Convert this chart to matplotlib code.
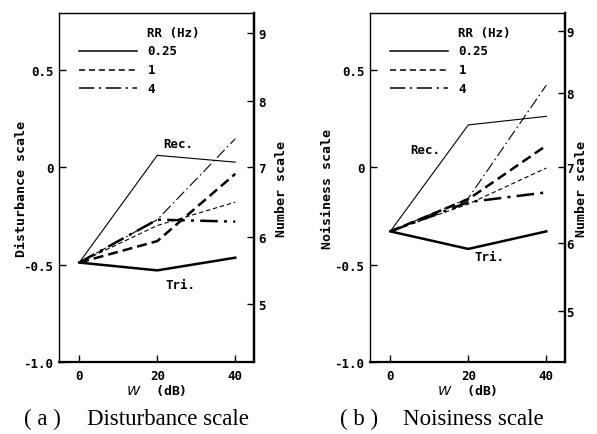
import matplotlib.pyplot as plt
import numpy as np

w = [0, 20, 40]

# disturbance scale (a)
dist_rec = {"0.25": [-0.49, 0.06, 0.025], "1": [-0.49, -0.30, -0.18], "4": [-0.49, -0.27, 0.145]}
dist_tri = {"0.25": [-0.49, -0.53, -0.465], "1": [-0.49, -0.38, -0.035], "4": [-0.49, -0.27, -0.28]}

# noisiness scale (b)
nois_rec = {"0.25": [-0.33, 0.216, 0.26], "1": [-0.33, -0.19, -0.005], "4": [-0.33, -0.16, 0.42]}
nois_tri = {"0.25": [-0.33, -0.42, -0.33], "1": [-0.33, -0.165, 0.11], "4": [-0.33, -0.18, -0.13]}

rr_labels = ["0.25", "1", "4"]
number_ticks = [5, 6, 7, 8, 9]
number_pos_a = [-0.70, -0.36, 0.0, 0.34, 0.69]
number_pos_b = [-0.74, -0.39, 0.0, 0.38, 0.70]

styles = {"0.25": "-", "1": (0, (4, 2.5)), "4": (0, (10, 3, 1.5, 3))}
styles_thick = {"0.25": "-", "1": (0, (4, 2)), "4": (0, (7, 2.5, 1.2, 2.5))}

tfont = dict(family="DejaVu Sans Mono", weight="bold", size=9)
lfont = dict(family="DejaVu Sans Mono", weight="bold", size=9.5)

fig = plt.figure(figsize=(5.97, 4.35), dpi=100)
axa = fig.add_axes([0.0988, 0.1655, 0.3266, 0.8023])
axb = fig.add_axes([0.6198, 0.1655, 0.3266, 0.8023])


def draw(ax, rec, tri, num_pos, ylab, rec_xy, tri_xy, cap_a, cap_b, pads):
    for k in rr_labels:
        ax.plot(w, rec[k], color="black", lw=0.8, linestyle=styles[k])
        ax.plot(w, tri[k], color="black", lw=1.8, linestyle=styles_thick[k])
    # legend drawn by hand
    ax.text(17.3, 0.69, "RR (Hz)", fontdict=tfont, va="center")
    for i, k in enumerate(rr_labels):
        y = [0.596, 0.5, 0.404][i]
        ax.plot([0, 14.8], [y, y], color="black", lw=1.1, linestyle=styles[k])
        ax.text(17.5, y, k, fontdict=tfont, va="center")
    ax.text(rec_xy[0], rec_xy[1], "Rec.", fontdict=tfont, va="center")
    ax.text(tri_xy[0], tri_xy[1], "Tri.", fontdict=tfont, va="center")

    ax.set_xlim(-5.2, 44.8)
    ax.set_ylim(-1.0, 0.79)
    ax.set_xticks(w)
    ax.set_xticklabels(["0", "20", "40"], fontdict=tfont)
    ax.set_yticks([-1.0, -0.5, 0, 0.5])
    ax.set_yticklabels(["-1.0", "-0.5", "0", "0.5"], fontdict=tfont)
    ax.tick_params(direction="in", length=5, width=1.0, pad=4)
    ax.tick_params(axis="x", pad=5)
    ax.set_ylabel(ylab, fontdict=lfont, labelpad=pads[0])
    ax.set_xlabel(r"$\mathit{W}$  (dB)", fontdict=lfont, labelpad=0)
    for s in ["left", "top"]:
        ax.spines[s].set_linewidth(1.0)
    for s in ["right", "bottom"]:
        ax.spines[s].set_linewidth(1.6)

    ax2 = ax.twinx()
    ax2.set_ylim(-1.0, 0.79)
    ax2.set_yticks(num_pos)
    ax2.set_yticklabels([str(n) for n in number_ticks], fontdict=tfont)
    ax2.tick_params(direction="in", length=5, width=1.0, pad=pads[1])
    ax2.set_ylabel("Number scale", fontdict=lfont, labelpad=pads[2])
    for s in ["left", "top", "bottom"]:
        ax2.spines[s].set_visible(False)
    ax2.spines["right"].set_linewidth(1.6)

    ax.text(cap_a[1], -0.163, cap_a[0], transform=ax.transAxes, ha="center", va="center",
            family="Liberation Serif", size=16.5)
    ax.text(cap_b[1], -0.163, cap_b[0], transform=ax.transAxes, ha="left", va="center",
            family="Liberation Serif", size=16.5)


draw(axa, dist_rec, dist_tri, number_pos_a, "Disturbance scale",
     (21.5, 0.12), (22, -0.6), ("( a )", -0.087), ("Disturbance scale", 0.144), (-3.3, 3, 7))
draw(axb, nois_rec, nois_tri, number_pos_b, "Noisiness scale",
     (5, 0.09), (21.5, -0.46), ("( b )", -0.056), ("Noisiness scale", 0.169), (0.2, 1, 1))

fig.savefig("out.png", dpi=100)
